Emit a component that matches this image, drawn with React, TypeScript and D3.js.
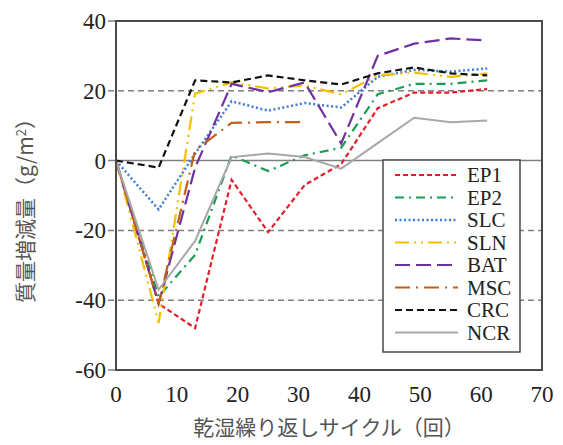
import React from 'react';
import * as d3 from 'd3';

const cycles = [0, 7, 13, 19, 25, 31, 37, 43, 49, 55, 61];
const ep1 = [0, -41, -48, -5.5, -20.5, -7, -1, 15, 19.5, 19.5, 20.5];
const ep2 = [0, -39, -27, 1.5, -3, 1.5, 3.7, 19, 22, 22, 23];
const slc = [0, -14, 2, 17, 14.3, 16.5, 15.2, 24, 26, 25.5, 26.4];
const sln = [0, -46.5, 19.2, 22.4, 20.7, 21.5, 19, 24.4, 25.2, 24, 25];
const bat = [0, -41, -2, 22, 19.6, 22.4, 4.9, 30, 33.5, 35, 34.4];
const msc = [0, -41, 3, 10.8, 11, 11];
const crc = [0, -2, 23, 22.4, 24.4, 23, 21.8, 25, 26.7, 25, 24.4];
const ncr = [0, -37, -23, 1, 2, 1, -2.3, 5, 12.3, 11, 11.5];

const yTicks = [40, 20, 0, -20, -40, -60];
const xTicks = [0, 10, 20, 30, 40, 50, 60, 70];

const seriesList = [
  { name: 'EP1', values: ep1, color: '#e3202a', dash: '5,3', width: 2.2 },
  { name: 'EP2', values: ep2, color: '#1a9c55', dash: '9,5,2,5', width: 2.2 },
  { name: 'SLC', values: slc, color: '#3b7dd8', dash: '2,2.5', width: 2.5 },
  { name: 'SLN', values: sln, color: '#f2c200', dash: '14,5,2,5,2,5', width: 2.2 },
  { name: 'BAT', values: bat, color: '#7031a0', dash: '15,6', width: 2.2 },
  { name: 'MSC', values: msc, color: '#c0601a', dash: '15,6,2,6', width: 2.2 },
  { name: 'CRC', values: crc, color: '#111111', dash: '7,4', width: 2.2 },
  { name: 'NCR', values: ncr, color: '#a8a8a8', dash: null, width: 2 },
];

const W = 563;
const H = 445;
const margin = { top: 21, right: 21, bottom: 75, left: 116 };

export default function App() {
  const x = d3.scaleLinear().domain([0, 70]).range([margin.left, W - margin.right]);
  const y = d3.scaleLinear().domain([-60, 40]).range([H - margin.bottom, margin.top]);
  const line = d3.line<number>()
    .x((_, i) => x(cycles[i]))
    .y(d => y(d));

  const serif = '"Liberation Serif", "DejaVu Serif", serif';
  const cjk = '"Noto Sans CJK JP", sans-serif';
  const legX = 383, legY = 160, legW = 137, legH = 192, rowH = 22.5;

  return (
    <svg width={W} height={H} style={{ position: 'absolute', left: 0, top: 0 }}>
      <rect x={0} y={0} width={W} height={H} fill="#fff" />
      {/* grid + left ticks */}
      {yTicks.map(t => (
        <g key={t}>
          <line x1={margin.left - 8} x2={t === 40 || t === -60 ? margin.left : W - margin.right}
            y1={y(t)} y2={y(t)}
            stroke="#808080" strokeWidth={1.5}
            strokeDasharray={t === 0 || t === 40 || t === -60 ? undefined : '6,4'} />
          <text x={margin.left - 10} y={y(t)} dy="0.35em" textAnchor="end"
            fontFamily={serif} fontSize={23} fill="#222">{t}</text>
        </g>
      ))}
      {xTicks.map(t => (
        <text key={t} x={x(t)} y={H - margin.bottom + 32} textAnchor="middle"
          fontFamily={serif} fontSize={23} fill="#222">{t}</text>
      ))}
      {/* series */}
      {seriesList.map(s => (
        <path key={s.name} d={line(s.values) || ''} fill="none" stroke={s.color}
          strokeWidth={s.width} strokeDasharray={s.dash || undefined} />
      ))}
      {/* frame */}
      <rect x={margin.left} y={margin.top} width={W - margin.right - margin.left}
        height={H - margin.bottom - margin.top} fill="none" stroke="#4a4a4a" strokeWidth={2} />
      {/* legend */}
      <rect x={legX} y={legY} width={legW} height={legH} fill="#fff" stroke="#4a4a4a" strokeWidth={1.5} />
      {seriesList.map((s, i) => {
        const cy = legY + 15 + i * rowH;
        return (
          <g key={s.name}>
            <line x1={legX + 12} x2={legX + 75} y1={cy} y2={cy} stroke={s.color}
              strokeWidth={s.width} strokeDasharray={s.dash || undefined} />
            <text x={legX + 84} y={cy} dy="0.35em" fontFamily={serif} fontSize={21} fill="#222">{s.name}</text>
          </g>
        );
      })}
      {/* axis titles */}
      <text x={(margin.left + W - margin.right) / 2} y={H - 10} textAnchor="middle"
        fontFamily={cjk} fontSize={21} fill="#555">乾湿繰り返しサイクル（回）</text>
      <text transform={`translate(33,${(margin.top + H - margin.bottom) / 2 + 10}) rotate(-90)`}
        textAnchor="middle" fontFamily={cjk} fontSize={21} fill="#555">
        質量増減量（g/m<tspan dy="-7" fontSize={13}>2</tspan><tspan dy="7">）</tspan>
      </text>
    </svg>
  );
}
